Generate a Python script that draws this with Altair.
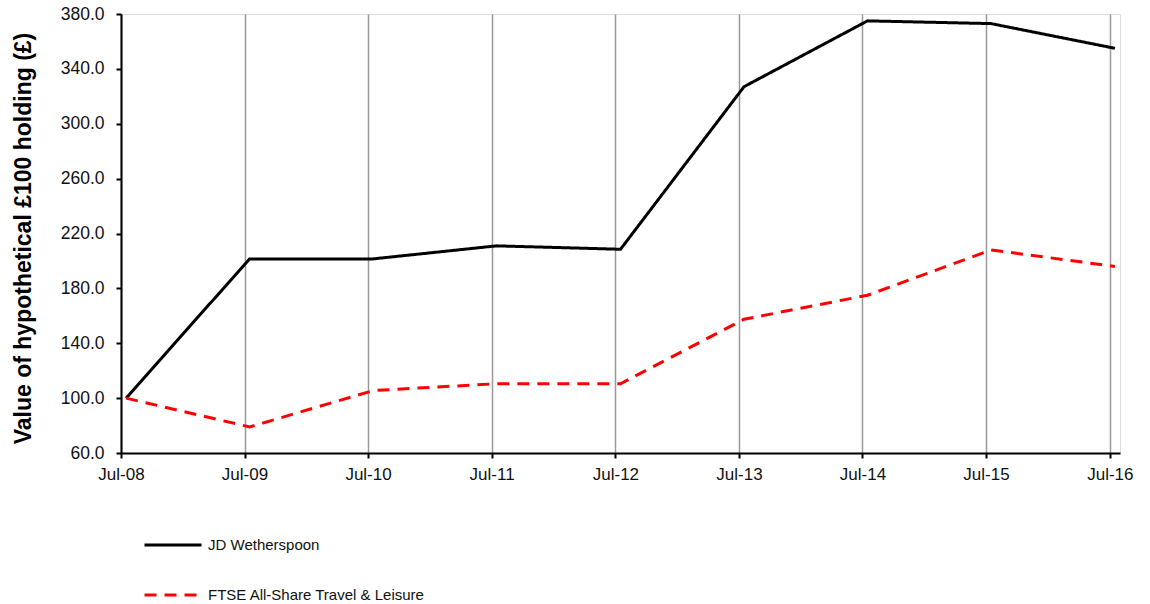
import altair as alt
import pandas as pd

# Value of a hypothetical £100 holding, sampled each July
dates = ["2008-07-16", "2009-07-16", "2010-07-16", "2011-07-16", "2012-07-16",
         "2013-07-16", "2014-07-16", "2015-07-16", "2016-07-16"]
wetherspoon = [100.0, 201.5, 201.5, 211.0, 208.5, 327.0, 375.0, 373.0, 355.0]
ftse_travel = [100.0, 79.0, 105.5, 110.5, 110.5, 157.5, 175.0, 208.0, 196.0]

series_names = ["JD Wetherspoon", "FTSE All-Share Travel & Leisure"]
series_colors = ["#000000", "#ff0000"]
series_dashes = [[1, 0], [12, 8]]

tick_years = list(range(2008, 2017))
y_ticks = [60, 100, 140, 180, 220, 260, 300, 340, 380]

df = pd.concat([
    pd.DataFrame({"date": dates, "value": wetherspoon, "series": series_names[0]}),
    pd.DataFrame({"date": dates, "value": ftse_travel, "series": series_names[1]}),
])

FONT = "Liberation Sans"

x_enc = alt.X(
    "date:T",
    scale=alt.Scale(
        type="utc",
        domain=[alt.DateTime(year=2008, month=7, date=1, utc=True),
                alt.DateTime(year=2016, month=7, date=31, utc=True)],
    ),
    axis=alt.Axis(
        title=None,
        values=[alt.DateTime(year=y, month=7, date=1, utc=True) for y in tick_years],
        labelExpr="utcFormat(datum.value, '%b-%y')",
        grid=True, gridColor="#999999", gridWidth=1.5,
        domainColor="#000000", domainWidth=2,
        tickColor="#000000", tickWidth=2, tickSize=5,
        labelFont=FONT, labelFontSize=17, labelColor="#111111",
        labelPadding=8, labelFlush=False, labelOverlap=False,
    ),
)

y_enc = alt.Y(
    "value:Q",
    scale=alt.Scale(domain=[60, 380], nice=False, zero=False),
    axis=alt.Axis(
        title="Value of hypothetical £100 holding (£)",
        values=y_ticks, format=".1f", grid=False,
        domainColor="#000000", domainWidth=2,
        tickColor="#000000", tickWidth=2, tickSize=5,
        labelFont=FONT, labelFontSize=17.5, labelColor="#111111", labelPadding=12,
        titleFont=FONT, titleFontSize=23, titleFontWeight="bold", titleColor="#000000",
        titleAngle=-90, titleX=-98, titleY=224,
        titleAlign="center", titleBaseline="middle",
    ),
)

legend_style = dict(
    title=None, orient="none", legendX=22, legendY=501,
    direction="vertical", symbolType="stroke", symbolSize=3249,
    symbolStrokeWidth=3, rowPadding=12, padding=0, labelOffset=5,
    labelFont=FONT, labelFontSize=15, labelColor="#111111",
    labelLimit=400,
)

chart = (
    alt.Chart(df)
    .mark_line(strokeWidth=3)
    .encode(
        x=x_enc,
        y=y_enc,
        color=alt.Color(
            "series:N",
            scale=alt.Scale(domain=series_names, range=series_colors),
            legend=alt.Legend(**legend_style),
        ),
        strokeDash=alt.StrokeDash(
            "series:N",
            scale=alt.Scale(domain=series_names, range=series_dashes),
            legend=alt.Legend(**legend_style),
        ),
    )
    .properties(
        width=999,
        height=439,
        autosize=alt.AutoSizeParams(type="none"),
        padding={"left": 121, "top": 14, "right": 30, "bottom": 151},
    )
    .configure_view(stroke="#d9d9d9", strokeWidth=3)
    .configure(background="#ffffff")
)

chart.save("out.html", embed_options={"renderer": "svg", "actions": False})
